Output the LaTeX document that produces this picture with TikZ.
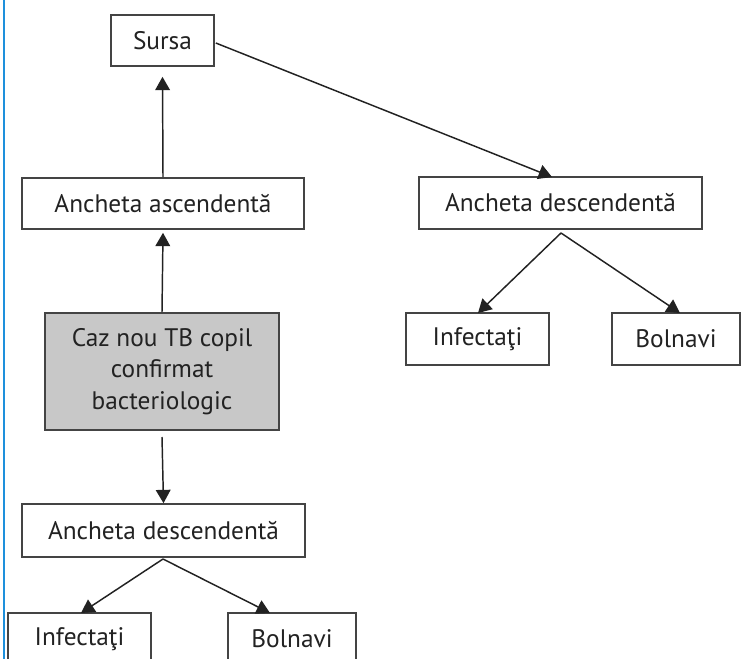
\documentclass[tikz,border=0pt]{standalone}
\usepackage{fontspec}
\setmainfont{PT Sans}
\usetikzlibrary{arrows.meta}
\definecolor{ink}{HTML}{222222}
\definecolor{edge}{HTML}{444444}
\definecolor{cazfill}{HTML}{C8C8C8}
\definecolor{rule}{HTML}{1E90DC}
\begin{document}
\begin{tikzpicture}[x=0.75pt,y=-0.75pt,
  box/.style={draw=edge,line width=1.2pt,fill=white,text=ink,inner sep=0pt,
    font=\fontsize{19}{23.5}\selectfont,align=center},
  link/.style={draw=ink,line width=1.1pt,-{Triangle[width=11pt,length=10pt]}},
  bare/.style={draw=ink,line width=1.1pt}]
\useasboundingbox (0,0) rectangle (741,659);
\clip (0,0) rectangle (741,659);
\fill[white] (0,0) rectangle (741,659);
\draw[rule,line width=1.5pt] (3.5,0) -- (3.5,659);

% left column
\node[box,minimum width=103*0.75pt,minimum height=51*0.75pt] (sursa) at (162.5,40.5) {Sursa};
\node[box,minimum width=282*0.75pt,minimum height=51*0.75pt] (asc) at (163,203.5) {Ancheta ascendentă};
\node[box,fill=cazfill,minimum width=234*0.75pt,minimum height=117*0.75pt] (caz) at (162,371.5)
  {Caz nou TB copil\\confirmat\\bacteriologic};
\node[box,minimum width=283*0.75pt,minimum height=53*0.75pt] (descL) at (163.5,530.5) {Ancheta descendentă};
\node[box,minimum width=143*0.75pt,minimum height=52*0.75pt] (infL) at (79.5,639) {Infectaţi};
\node[box,minimum width=128*0.75pt,minimum height=52*0.75pt] (bolL) at (292,639) {Bolnavi};

% right column
\node[box,minimum width=283*0.75pt,minimum height=52*0.75pt] (descR) at (560.5,203) {Ancheta descendentă};
\node[box,minimum width=143*0.75pt,minimum height=52*0.75pt] (infR) at (477.5,339) {Infectaţi};
\node[box,minimum width=128*0.75pt,minimum height=52*0.75pt] (bolR) at (676,339) {Bolnavi};

% fan-out points just below the descent boxes
\coordinate (forkR) at (561,233);
\coordinate (forkL) at (163,559);

% connectors
\draw[link] (caz.north) -- ([yshift=-3*0.75pt]asc.south);
\draw[link] (asc.north) -- ([yshift=-10*0.75pt]sursa.south);
\draw[link] (caz.south |- 0,437) -- (descL.north);
\draw[link] ([xshift=1*0.75pt,yshift=-2.5*0.75pt]sursa.east) -- (552,177);
\draw[link] (forkR) -- (478,313);
\draw[link] (forkR) -- (680,313);
\draw[link] (forkL) -- (81,613);
\draw[link] (forkL) -- (270,613);
\end{tikzpicture}
\end{document}
